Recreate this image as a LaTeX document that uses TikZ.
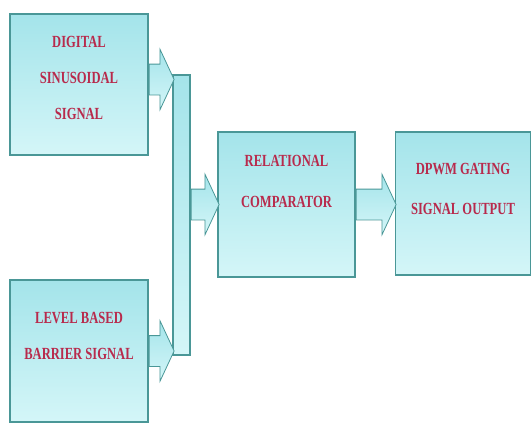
\documentclass[tikz,border=0pt]{standalone}
\usepackage{fontspec}
\usepackage{graphicx}
\setmainfont{Liberation Serif}
\usetikzlibrary{shapes.arrows}
\definecolor{edge}{HTML}{4A9797}
\definecolor{fillA}{HTML}{A4E4EA}
\definecolor{fillB}{HTML}{D4F6F8}
\definecolor{txt}{HTML}{B82A4C}
\newcommand{\sqz}[1]{\scalebox{0.74}[1]{#1}}
\begin{document}
\begin{tikzpicture}[x=1pt, y=-1pt,
        block/.style = {rectangle, draw=edge, line width=1.4pt, top color=fillA, bottom color=fillB},
        lbl/.style = {align=center, text=txt, font=\fontsize{17}{36}\selectfont\bfseries},
        fatarrow/.style = {single arrow, draw=edge, line width=0.8pt, top color=fillA, bottom color=fillB,
            inner xsep=0pt, inner ysep=15pt, single arrow head extend=15pt, single arrow tip angle=130}]
        \useasboundingbox (0,0) rectangle (532,431);

        % Blocs
        \node[block, minimum width=138, minimum height=141] (dig) at (79,84.5) {};
        \node[block, minimum width=138, minimum height=142] (lvl) at (79,351) {};
        \node[block, minimum width=17, minimum height=280] (bus) at (181.5,215) {};
        \node[block, minimum width=137, minimum height=145] (comp) at (286.5,204.5) {};
        \node[block, minimum width=135, minimum height=143] (dpwm) at (463,203.5) {};

        % Textes
        \node[lbl] (digtxt) at ([yshift=7pt]dig.center) {\sqz{DIGITAL}\\\sqz{SINUSOIDAL}\\\sqz{SIGNAL}};
        \node[lbl] (lvltxt) at ([yshift=15pt]lvl.center) {\sqz{LEVEL BASED}\\\sqz{BARRIER SIGNAL}};
        \node[lbl, font=\fontsize{17}{41}\selectfont\bfseries] (comptxt) at ([yshift=23pt]comp.center) {\sqz{RELATIONAL}\\\sqz{COMPARATOR}};
        \node[lbl, font=\fontsize{17}{40}\selectfont\bfseries] (dpwmtxt) at ([yshift=15pt]dpwm.center) {\sqz{DPWM GATING}\\\sqz{SIGNAL OUTPUT}};

        % Fleches
        \node[fatarrow, minimum height=25, anchor=tail] (a1) at ([yshift=5pt]dig.east) {};
        \node[fatarrow, minimum height=25, anchor=tail] (a2) at (lvl.east) {};
        \node[fatarrow, minimum height=28, anchor=tail] (a3) at (bus.east |- comp.west) {};
        \node[fatarrow, minimum height=40, anchor=tail] (a4) at (comp.east) {};
    \end{tikzpicture}
\end{document}
